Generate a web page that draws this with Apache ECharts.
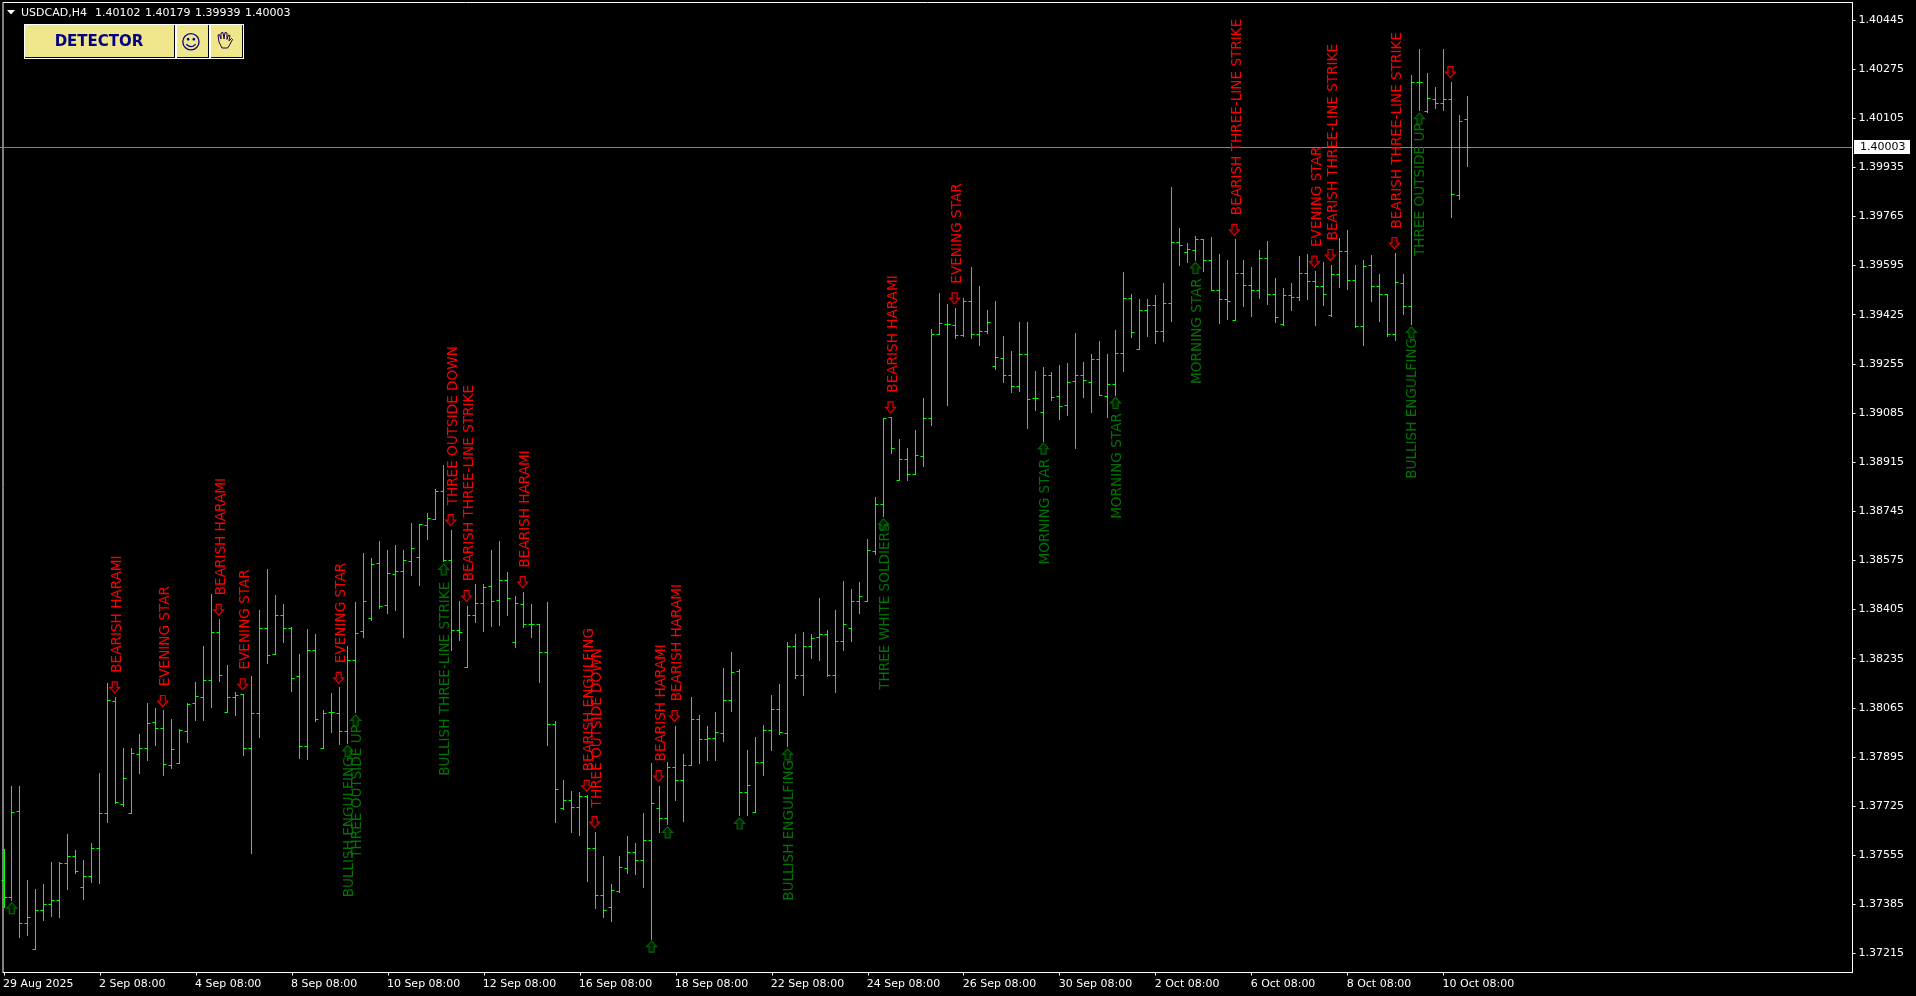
<!DOCTYPE html>
<html><head><meta charset="utf-8">
<style>html,body{margin:0;padding:0;background:#000;width:100%;height:100%;overflow:hidden}#c{width:1916px;height:996px}</style>
<script src="https://cdn.jsdelivr.net/npm/echarts@6/dist/echarts.min.js"></script>
</head><body><div id="c"></div>
<script>
const symbolName='USDCAD,H4';
const quote=['1.40102','1.40179','1.39939','1.40003'];
const lastPrice=1.40003;
const opens=[1.37469,1.37409,1.37705,1.37319,1.37229,1.37362,1.37385,1.37399,1.37527,1.37552,
1.37444,1.37482,1.37579,1.37700,1.38088,1.37732,1.37700,1.37905,1.37925,1.38015,
1.37994,1.37865,1.37873,1.37984,1.38081,1.38102,1.38160,1.38324,1.38049,1.38101,
1.38112,1.37925,1.38046,1.38340,1.38250,1.38383,1.38340,1.38172,1.37930,1.38265,
1.37925,1.38049,1.38046,1.37984,1.38230,1.38328,1.38373,1.38564,1.38420,1.38525,
1.38537,1.38572,1.38586,1.38695,1.38718,1.38812,1.38575,1.38331,1.38204,1.38385,
1.38427,1.38486,1.38436,1.38505,1.38292,1.38423,1.38354,1.38352,1.38257,1.38006,
1.37716,1.37746,1.37721,1.37757,1.37579,1.37417,1.37375,1.37431,1.37510,1.37565,
1.37535,1.37605,1.37717,1.37683,1.37859,1.37813,1.37867,1.38026,1.37957,1.37960,
1.37977,1.38089,1.38190,1.37771,1.37702,1.37876,1.37986,1.38060,1.37977,1.38276,
1.38176,1.38276,1.38308,1.38319,1.38176,1.38295,1.38338,1.38432,1.38434,1.38605,
1.38769,1.39069,1.38851,1.38925,1.38873,1.38936,1.39067,1.39357,1.39392,1.39388,
1.39352,1.39471,1.39358,1.39368,1.39245,1.39274,1.39216,1.39178,1.39286,1.39134,
1.39087,1.39215,1.39141,1.39110,1.39193,1.39215,1.39190,1.39271,1.39141,1.39184,
1.39292,1.39482,1.39305,1.39439,1.39456,1.39366,1.39465,1.39676,1.39641,1.39647,
1.39684,1.39614,1.39508,1.39478,1.39404,1.39567,1.39526,1.39508,1.39618,1.39494,
1.39390,1.39491,1.39485,1.39568,1.39541,1.39522,1.39421,1.39563,1.39643,1.39542,
1.39384,1.39594,1.39524,1.39494,1.39358,1.39534,1.39453,1.40229,1.40128,1.40170,
1.40157,1.40170,1.39839,1.40102];
const highs=[1.37575,1.37794,1.37794,1.37469,1.37435,1.37452,1.37529,1.37529,1.37625,1.37573,
1.37538,1.37597,1.37839,1.38150,1.38101,1.37925,1.37925,1.37971,1.38081,1.38063,
1.38054,1.38023,1.37991,1.38081,1.38153,1.38278,1.38458,1.38369,1.38210,1.38119,
1.38112,1.38175,1.38403,1.38544,1.38452,1.38421,1.38344,1.38248,1.38337,1.38320,
1.38054,1.38116,1.38134,1.38278,1.38431,1.38600,1.38580,1.38639,1.38608,1.38625,
1.38608,1.38701,1.38700,1.38736,1.38821,1.38905,1.38680,1.38434,1.38417,1.38490,
1.38492,1.38611,1.38639,1.38534,1.38449,1.38465,1.38421,1.38352,1.38428,1.38019,
1.37812,1.37775,1.37773,1.37760,1.37635,1.37552,1.37452,1.37550,1.37621,1.37594,
1.37698,1.37873,1.37794,1.37876,1.38002,1.37902,1.38101,1.38037,1.38002,1.38049,
1.38202,1.38257,1.38198,1.37919,1.37963,1.38005,1.38106,1.38144,1.38292,1.38320,
1.38324,1.38320,1.38444,1.38334,1.38403,1.38503,1.38473,1.38499,1.38646,1.38793,
1.39067,1.39070,1.38994,1.38963,1.39026,1.39134,1.39375,1.39499,1.39459,1.39447,
1.39482,1.39589,1.39524,1.39441,1.39472,1.39351,1.39299,1.39399,1.39399,1.39230,
1.39243,1.39226,1.39248,1.39255,1.39361,1.39260,1.39289,1.39332,1.39286,1.39372,
1.39572,1.39496,1.39478,1.39476,1.39493,1.39534,1.39866,1.39724,1.39673,1.39697,
1.39686,1.39693,1.39635,1.39614,1.39684,1.39614,1.39589,1.39646,1.39679,1.39549,
1.39517,1.39534,1.39625,1.39632,1.39574,1.39606,1.39597,1.39690,1.39715,1.39594,
1.39614,1.39629,1.39563,1.39495,1.39638,1.39563,1.40251,1.40343,1.40260,1.40212,
1.40343,1.40230,1.40113,1.40179];
const lows=[1.37373,1.37398,1.37270,1.37277,1.37229,1.37328,1.37342,1.37339,1.37436,1.37492,
1.37401,1.37460,1.37456,1.37668,1.37735,1.37723,1.37700,1.37838,1.37882,1.37936,
1.37830,1.37856,1.37873,1.37944,1.38020,1.38020,1.38065,1.38155,1.38048,1.38040,
1.37899,1.37562,1.37962,1.38219,1.38250,1.38290,1.38121,1.37889,1.37885,1.38019,
1.37925,1.37979,1.37937,1.37942,1.38048,1.38308,1.38366,1.38410,1.38391,1.38400,
1.38308,1.38522,1.38487,1.38646,1.38715,1.38570,1.38263,1.38297,1.38204,1.38359,
1.38328,1.38346,1.38349,1.38384,1.38273,1.38344,1.38308,1.38152,1.37936,1.37668,
1.37714,1.37633,1.37623,1.37463,1.37369,1.37339,1.37326,1.37427,1.37492,1.37487,
1.37443,1.37265,1.37633,1.37660,1.37744,1.37671,1.37867,1.37871,1.37881,1.37884,
1.37948,1.38052,1.37691,1.37692,1.37702,1.37830,1.37917,1.37974,1.37930,1.38166,
1.38107,1.38234,1.38230,1.38175,1.38117,1.38265,1.38296,1.38390,1.38432,1.38594,
1.38726,1.38946,1.38851,1.38851,1.38871,1.38899,1.39041,1.39355,1.39110,1.39344,
1.39349,1.39344,1.39318,1.39361,1.39236,1.39190,1.39157,1.39159,1.39032,1.39093,
1.38988,1.39128,1.39063,1.39078,1.38961,1.39139,1.39087,1.39145,1.39070,1.39146,
1.39228,1.39346,1.39303,1.39349,1.39324,1.39334,1.39400,1.39597,1.39604,1.39613,
1.39574,1.39508,1.39394,1.39410,1.39404,1.39453,1.39418,1.39482,1.39459,1.39399,
1.39387,1.39439,1.39474,1.39476,1.39387,1.39456,1.39418,1.39519,1.39511,1.39380,
1.39317,1.39470,1.39401,1.39349,1.39335,1.39425,1.39390,1.40130,1.40125,1.40137,
1.40133,1.39761,1.39822,1.39939];
const closes=[1.37409,1.37703,1.37319,1.37340,1.37362,1.37385,1.37399,1.37527,1.37552,1.37498,
1.37482,1.37579,1.37700,1.38091,1.37737,1.37821,1.37908,1.37925,1.38011,1.37994,
1.37868,1.37921,1.37985,1.38078,1.38105,1.38161,1.38324,1.38176,1.38101,1.38108,
1.37925,1.38046,1.38340,1.38245,1.38383,1.38338,1.38167,1.37930,1.38265,1.38025,
1.38047,1.38049,1.37984,1.38230,1.38323,1.38432,1.38561,1.38416,1.38530,1.38537,
1.38573,1.38617,1.38698,1.38721,1.38812,1.38576,1.38333,1.38326,1.38385,1.38427,
1.38482,1.38434,1.38504,1.38444,1.38427,1.38352,1.38352,1.38257,1.38006,1.37781,
1.37746,1.37721,1.37757,1.37579,1.37417,1.37362,1.37432,1.37512,1.37565,1.37535,
1.37605,1.37735,1.37683,1.37859,1.37815,1.37867,1.38025,1.37956,1.37960,1.37979,
1.38089,1.38188,1.37771,1.37796,1.37876,1.37986,1.38060,1.37979,1.38276,1.38176,
1.38276,1.38305,1.38319,1.38178,1.38295,1.38352,1.38432,1.38449,1.38609,1.38767,
1.39067,1.38963,1.38925,1.38873,1.38939,1.39067,1.39357,1.39395,1.39390,1.39352,
1.39471,1.39357,1.39366,1.39397,1.39276,1.39216,1.39176,1.39288,1.39132,1.39136,
1.39215,1.39139,1.39107,1.39191,1.39215,1.39196,1.39271,1.39147,1.39184,1.39292,
1.39482,1.39363,1.39439,1.39456,1.39366,1.39465,1.39676,1.39664,1.39649,1.39684,
1.39614,1.39508,1.39478,1.39471,1.39567,1.39526,1.39508,1.39620,1.39494,1.39416,
1.39493,1.39485,1.39568,1.39541,1.39521,1.39496,1.39563,1.39645,1.39543,1.39384,
1.39591,1.39524,1.39494,1.39358,1.39536,1.39453,1.40228,1.40229,1.40174,1.40157,
1.40170,1.39842,1.40093,1.40003];
const xTickLabels=['29 Aug 2025','2 Sep 08:00','4 Sep 08:00','8 Sep 08:00','10 Sep 08:00','12 Sep 08:00','16 Sep 08:00','18 Sep 08:00','22 Sep 08:00','24 Sep 08:00','26 Sep 08:00','30 Sep 08:00','2 Oct 08:00','6 Oct 08:00','8 Oct 08:00','10 Oct 08:00'];
const barsPerXTick=12;
const yTicks=[1.40445,1.40275,1.40105,1.39935,1.39765,1.39595,1.39425,1.39255,1.39085,1.38915,1.38745,1.38575,1.38405,1.38235,1.38065,1.37895,1.37725,1.37555,1.37385,1.37215];
const bearishBars=[14,20,27,30,42,56,58,65,73,74,82,84,111,119,154,164,166,174,181];
const bearishTexts=['BEARISH HARAMI','EVENING STAR','BEARISH HARAMI','EVENING STAR','EVENING STAR','THREE OUTSIDE DOWN','BEARISH THREE-LINE STRIKE','BEARISH HARAMI','BEARISH ENGULFING','THREE OUTSIDE DOWN','BEARISH HARAMI','BEARISH HARAMI','BEARISH HARAMI','EVENING STAR','BEARISH THREE-LINE STRIKE','EVENING STAR','BEARISH THREE-LINE STRIKE','BEARISH THREE-LINE STRIKE',''];
const bullishBars=[1,43,44,55,81,83,92,98,110,130,139,149,176,177];
const bullishTexts=['','BULLISH ENGULFING','THREE OUTSIDE UP','BULLISH THREE-LINE STRIKE','','','','BULLISH ENGULFING','THREE WHITE SOLDIERS','MORNING STAR','MORNING STAR','MORNING STAR','BULLISH ENGULFING','THREE OUTSIDE UP'];

const LABEL_FONT='11px "DejaVu Sans"';
const SIGNAL_FONT='13.6px "DejaVu Sans"';
const bullishTextDrop={'BULLISH ENGULFING':154,'THREE OUTSIDE UP':145,'MORNING STAR':123.5,'BULLISH THREE-LINE STRIKE':214,'THREE WHITE SOLDIERS':173};
const X_MIN=-0.125, X_MAX=231.125, Y_MIN=1.371492, Y_MAX=1.405053;

const ohlcRows=opens.map((o,i)=>[i,o,highs[i],lows[i],closes[i]]);
function crisp(v){return Math.floor(v)+0.5;}
function renderBar(params,api){
  const i=api.value(0);
  const x=crisp(api.coord([i,0])[0]);
  const yO=crisp(api.coord([i,api.value(1)])[1]);
  const yH=api.coord([i,api.value(2)])[1];
  const yL=api.coord([i,api.value(3)])[1];
  const yC=crisp(api.coord([i,api.value(4)])[1]);
  const style={stroke:'#00ff00',lineWidth:1,fill:null};
  return {type:'group',silent:true,children:[
    {type:'line',shape:{x1:x,y1:Math.floor(yH),x2:x,y2:Math.ceil(yL)},style},
    {type:'line',shape:{x1:x-3,y1:yO,x2:x,y2:yO},style},
    {type:'line',shape:{x1:x,y1:yC,x2:x+3,y2:yC},style}
  ]};
}
function renderLastPrice(params,api){
  const y=crisp(api.coord([0,api.value(1)])[1]);
  return {type:'group',silent:true,children:[
    {type:'line',shape:{x1:0,y1:y,x2:1852,y2:y},style:{stroke:'#778899',lineWidth:1,fill:null}},
    {type:'rect',shape:{x:1854,y:y-7.5,width:56,height:14},style:{fill:'#ffffff'}},
    {type:'text',x:1860,y:y,style:{text:api.value(1).toFixed(5),font:LABEL_FONT,fill:'#000000',align:'left',verticalAlign:'middle'}}
  ]};
}
const downArrow=[[-2.5,-5.5],[2.5,-5.5],[2.5,0],[5,0],[0,5.5],[-5,0],[-2.5,0]];
const upArrow=downArrow.map(p=>[p[0],-p[1]]);
function renderBearish(params,api){
  const i=api.value(0), pt=api.coord([i,api.value(1)]);
  const text=bearishTexts[params.dataIndex];
  const kids=[{type:'polygon',x:pt[0]-1.2,y:pt[1]-10,shape:{points:downArrow},style:{fill:'#1c0000',stroke:'#dd0000',lineWidth:1.2}}];
  if(text)kids.push({type:'text',x:pt[0]+1.5,y:pt[1]-24.7,rotation:Math.PI/2,style:{text,font:SIGNAL_FONT,fill:'#ff0000',align:'left',verticalAlign:'middle'}});
  return {type:'group',silent:true,children:kids};
}
function renderBullish(params,api){
  const i=api.value(0), pt=api.coord([i,api.value(1)]);
  const text=bullishTexts[params.dataIndex];
  const kids=[{type:'polygon',x:pt[0]-0.2,y:pt[1]+7.6,shape:{points:upArrow},style:{fill:'#001c00',stroke:'#006400',lineWidth:1.2}}];
  if(text)kids.push({type:'text',x:pt[0]+1.3,y:pt[1]+bullishTextDrop[text],rotation:Math.PI/2,style:{text,font:SIGNAL_FONT,fill:'#007400',align:'left',verticalAlign:'middle'}});
  return {type:'group',silent:true,children:kids};
}
function button(x,w){
  return [
    {type:'rect',shape:{x,y:24,width:w,height:35},style:{fill:'#ffffff'},silent:true},
    {type:'rect',shape:{x:x+1,y:25,width:w-2,height:33},style:{fill:'#000000'},silent:true},
    {type:'rect',shape:{x:x+1,y:25,width:w-3,height:32},style:{fill:'#f0e68c'},silent:true}
  ];
}
function headerText(text,x){
  return {type:'text',x,y:13.5,silent:true,style:{text,font:LABEL_FONT,fill:'#ffffff',align:'left',verticalAlign:'middle'}};
}
const graphicElements=[
  {type:'polygon',silent:true,shape:{points:[[7,10],[15,10],[11,14.5]]},style:{fill:'#ffffff'}},
  headerText(symbolName,21),
  headerText(quote[0],95),headerText(quote[1],145),headerText(quote[2],195),headerText(quote[3],245),
  ...button(24,152),...button(176,34),...button(210,34),
  {type:'text',x:99,y:42,silent:true,style:{text:'DETECTOR',font:'bold 15px "DejaVu Sans"',fill:'#000080',align:'center',verticalAlign:'middle'}},
  {type:'text',x:191,y:43.5,silent:true,style:{text:'☺',font:'20px "DejaVu Sans"',fill:'#000080',align:'center',verticalAlign:'middle'}},
  {type:'polyline',silent:true,shape:{points:[[222,48],[219,42],[218,35],[219.5,34.5],[221,39],[221,33],[223,32.5],[224,39],[225,32.5],[227,33],[227,39.5],[228.5,35],[230,35.5],[229,41],[231.5,38.5],[232.5,39.5],[229,46],[227.5,48],[222,48]]},style:{fill:'none',stroke:'#200050',lineWidth:1}}
];
const chart=echarts.init(document.getElementById('c'),null,{renderer:'canvas'});
chart.setOption({
  animation:false,
  backgroundColor:'#000000',
  grid:{left:2.5,top:2.5,width:1850,height:970,show:true,borderColor:'#ffffff',borderWidth:1,backgroundColor:'transparent',containLabel:false},
  xAxis:{type:'value',min:X_MIN,max:X_MAX,splitLine:{show:false},
    axisLine:{show:true,onZero:false,lineStyle:{color:'#ffffff',width:1}},
    axisTick:{show:true,length:3,lineStyle:{color:'#ffffff'},customValues:xTickLabels.map((_,k)=>k*barsPerXTick)},
    axisLabel:{show:true,color:'#ffffff',fontFamily:'DejaVu Sans',fontSize:11,align:'left',margin:6,padding:[0,1,0,-1],
      customValues:xTickLabels.map((_,k)=>k*barsPerXTick),
      formatter:v=>xTickLabels[Math.round(v/barsPerXTick)]}},
  yAxis:{type:'value',position:'right',min:Y_MIN,max:Y_MAX,splitLine:{show:false},
    axisLine:{show:true,onZero:false,lineStyle:{color:'#ffffff',width:1}},
    axisTick:{show:true,length:3,lineStyle:{color:'#ffffff'},customValues:yTicks},
    axisLabel:{show:true,color:'#ffffff',fontFamily:'DejaVu Sans',fontSize:11,margin:6,align:'left',padding:[2,0,0,0],
      customValues:yTicks,formatter:v=>v.toFixed(5)}},
  graphic:{elements:graphicElements},
  series:[
    {type:'custom',z:1,name:'Last price',coordinateSystem:'cartesian2d',clip:false,data:[[0,lastPrice]],renderItem:renderLastPrice,encode:{x:0,y:1},silent:true},
    {type:'custom',z:3,name:'USDCAD',coordinateSystem:'cartesian2d',clip:false,data:ohlcRows,renderItem:renderBar,encode:{x:0,y:[1,2,3,4]},silent:true},
    {type:'custom',z:4,name:'Bearish',coordinateSystem:'cartesian2d',clip:false,data:bearishBars.map(i=>[i,highs[i]]),renderItem:renderBearish,encode:{x:0,y:1},silent:true},
    {type:'custom',z:4,name:'Bullish',coordinateSystem:'cartesian2d',clip:false,data:bullishBars.map(i=>[i,lows[i]]),renderItem:renderBullish,encode:{x:0,y:1},silent:true}
  ]
});
</script></body></html>
